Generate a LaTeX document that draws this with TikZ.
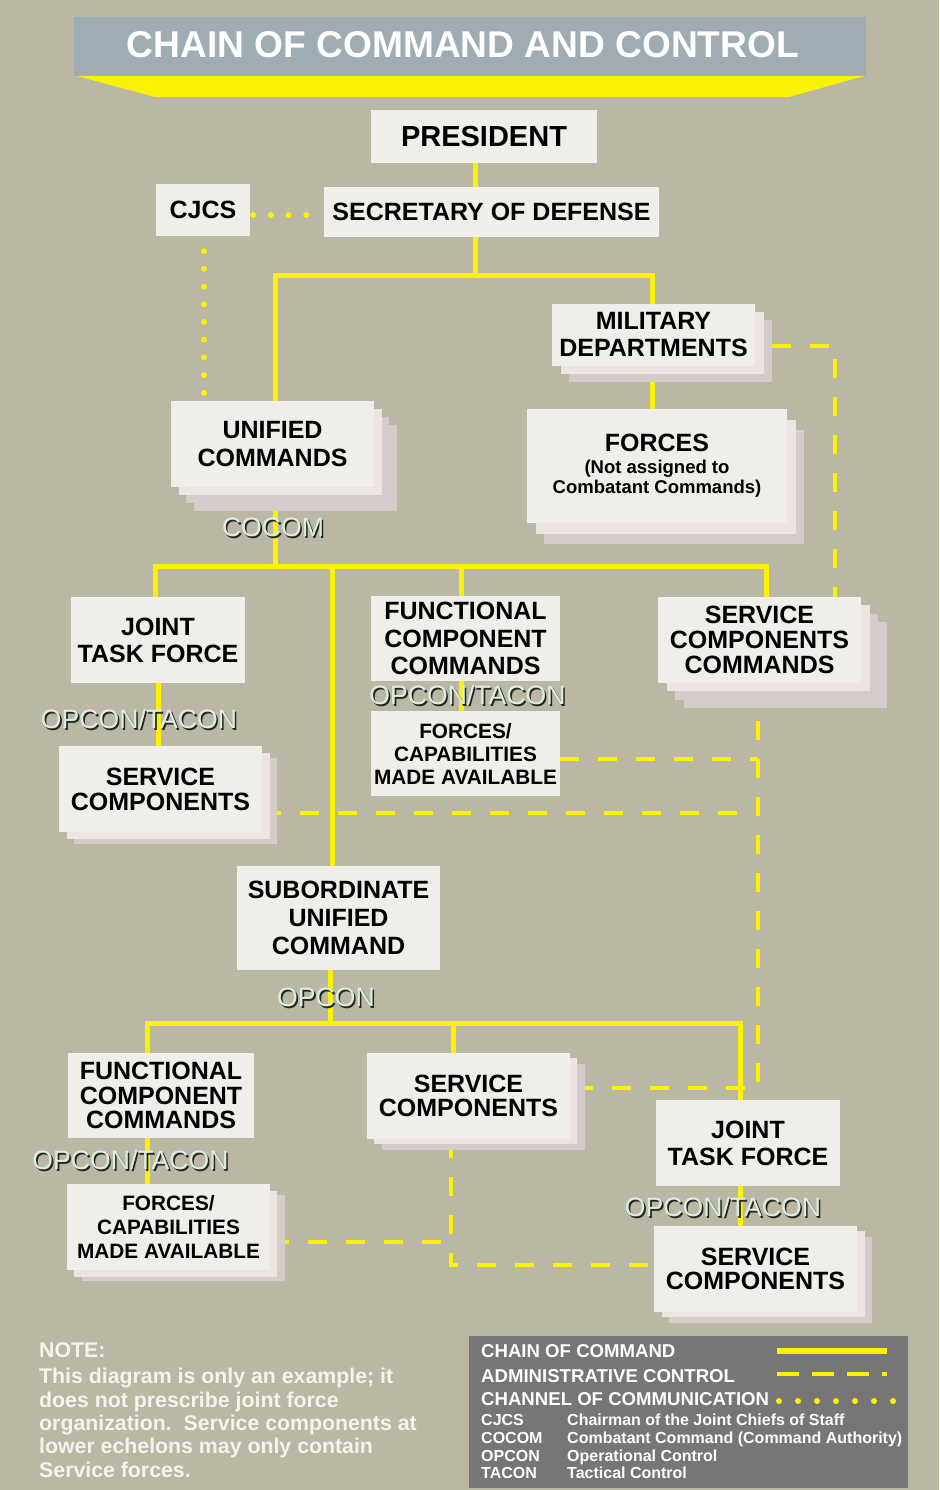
\documentclass[tikz,border=0pt]{standalone}
\usepackage{fontspec}
\setmainfont{Liberation Sans}
\usepackage{graphicx}
\usetikzlibrary{shadows,calc}
\definecolor{bgc}{RGB}{186,184,164}
\definecolor{titlec}{RGB}{159,172,179}
\definecolor{yl}{RGB}{250,242,0}
\definecolor{boxc}{RGB}{239,238,234}
\definecolor{layp}{RGB}{237,228,225}
\definecolor{layd}{RGB}{212,204,202}
\definecolor{legc}{RGB}{118,118,118}
\definecolor{labc}{RGB}{222,236,224}
\definecolor{shc}{RGB}{35,40,35}
\definecolor{notec}{RGB}{244,243,238}
\newcommand\shtext[1]{\makebox[0pt][l]{\hspace*{1.6pt}\raisebox{-1.6pt}{\textcolor{shc}{#1}}}#1}
\pgfdeclarelayer{back}
\pgfdeclarelayer{lines}
\pgfsetlayers{back,lines,main}
\begin{document}
\begin{tikzpicture}[x=1pt, y=-1pt,
  box/.style={fill=boxc, draw=none, inner sep=0pt, align=center, text=black, font=\fontsize{25}{27.5}\selectfont\bfseries},
  cmd/.style={draw=yl, line width=5pt},
  adm/.style={draw=yl, line width=4pt, dash pattern=on 19pt off 19pt},
  comm/.style={draw=yl, line width=6pt, line cap=round, dash pattern=on 0pt off 17.7pt},
  lab/.style={inner sep=0pt, text=labc, font=\fontsize{26.6}{28}\selectfont, anchor=base},
  lgt/.style={inner sep=0pt, text=white, anchor=base west, font=\fontsize{18.6}{21}\selectfont\bfseries},
  lgs/.style={inner sep=0pt, text=white, anchor=base west, font=\fontsize{16}{18}\selectfont\bfseries},
  lay/.style n args={3}{general shadow={fill=#1, draw=none, shadow xshift=#2, shadow yshift=#3}}
]
\useasboundingbox (0,0) rectangle (939,1490);
\begin{pgfonlayer}{back}
\fill[bgc] (0,0) rectangle (939,1490);
\end{pgfonlayer}

% title
\fill[titlec] (74,17) rectangle (866,76);
\fill[yl] (77,76) -- (864,76) -- (789,97) -- (155,97) -- cycle;
\node[inner sep=0pt, anchor=base, text=white] (title) at (463,58) {\resizebox{672pt}{26pt}{\bfseries CHAIN OF COMMAND AND CONTROL}};

% boxes
\node[box, minimum width=226pt, minimum height=53pt, font=\fontsize{29}{31}\selectfont\bfseries] (pres) at (484,136.5) {PRESIDENT};
\node[box, minimum width=94pt, minimum height=52pt] (cjcs) at (203,210) {CJCS};
\node[box, minimum width=335pt, minimum height=50pt] (secdef) at (491.5,212) {SECRETARY OF DEFENSE};
\node[box, minimum width=203pt, minimum height=62pt, font=\fontsize{25}{27}\selectfont\bfseries,
  lay={layd}{17pt}{-16pt}, lay={layp}{8.5pt}{-8pt}] (mil) at (653.5,335) {MILITARY\\DEPARTMENTS};
\node[box, minimum width=260pt, minimum height=114pt, text width=260pt, align=flush center,
  lay={layd}{17pt}{-21pt}, lay={layp}{8.5pt}{-10.5pt}] (forces) at (657,466)
  {FORCES\par\vspace{2pt}\fontsize{18.5}{20}\selectfont(Not assigned to\\Combatant Commands)\par};
\node[box, minimum width=203pt, minimum height=86pt, font=\fontsize{25}{28}\selectfont\bfseries,
  lay={layd}{23pt}{-24pt}, lay={layd}{15.4pt}{-16pt}, lay={layp}{7.7pt}{-8pt}] (unified) at (272.5,444) {UNIFIED\\COMMANDS};
\node[box, minimum width=174pt, minimum height=86pt, font=\fontsize{25}{27}\selectfont\bfseries] (jtf1) at (158,640) {JOINT\\TASK FORCE};
\node[box, minimum width=189pt, minimum height=85pt] (fcc1) at (465.5,638.5) {FUNCTIONAL\\COMPONENT\\COMMANDS};
\node[box, minimum width=189pt, minimum height=85pt, font=\fontsize{20.8}{23}\selectfont\bfseries] (fcap1) at (465.5,753.5) {FORCES/\\CAPABILITIES\\MADE AVAILABLE};
\node[box, minimum width=203pt, minimum height=86pt, font=\fontsize{25}{25}\selectfont\bfseries,
  lay={layd}{25.5pt}{-25pt}, lay={layd}{17pt}{-16.6pt}, lay={layp}{8.5pt}{-8.3pt}] (scc) at (759.5,640) {SERVICE\\COMPONENTS\\COMMANDS};
\node[box, minimum width=203pt, minimum height=86pt, font=\fontsize{25}{25}\selectfont\bfseries,
  lay={layd}{15pt}{-12pt}, lay={layp}{7.5pt}{-6.5pt}] (sc1) at (160.5,789) {SERVICE\\COMPONENTS};
\node[box, minimum width=203pt, minimum height=104pt, font=\fontsize{25}{28}\selectfont\bfseries] (sub) at (338.5,918) {SUBORDINATE\\UNIFIED\\COMMAND};
\node[box, minimum width=186pt, minimum height=85pt, font=\fontsize{25}{24.5}\selectfont\bfseries] (fcc2) at (161,1095.5) {FUNCTIONAL\\COMPONENT\\COMMANDS};
\node[box, minimum width=203pt, minimum height=86pt, font=\fontsize{20.8}{24}\selectfont\bfseries,
  lay={layd}{15pt}{-11pt}, lay={layp}{7pt}{-7pt}] (fcap2) at (168.5,1227) {FORCES/\\CAPABILITIES\\MADE AVAILABLE};
\node[box, minimum width=203pt, minimum height=86pt, font=\fontsize{25}{24.5}\selectfont\bfseries,
  lay={layd}{15pt}{-11pt}, lay={layp}{7pt}{-5pt}] (sc2) at (468.5,1096) {SERVICE\\COMPONENTS};
\node[box, minimum width=184pt, minimum height=86pt, font=\fontsize{25}{27}\selectfont\bfseries] (jtf2) at (748,1143) {JOINT\\TASK FORCE};
\node[box, minimum width=203pt, minimum height=86pt, font=\fontsize{25}{24.5}\selectfont\bfseries,
  lay={layd}{15pt}{-11pt}, lay={layp}{8pt}{-5pt}] (sc3) at (755.5,1269) {SERVICE\\COMPONENTS};

% connectors
\begin{pgfonlayer}{lines}
\coordinate (j0) at (475,275);
\coordinate (j0a) at (275,275);
\coordinate (j0b) at (652,275);
\draw[cmd] (pres.south -| j0) -- (secdef.north -| j0);
\draw[cmd] (secdef.south -| j0) -- (j0);
\draw[cmd] (unified.north -| j0a) -- (j0a) -- (j0b) -- (mil.north -| j0b);
\draw[cmd] (mil.south -| j0b) -- (forces.north -| j0b);
\coordinate (b1) at (275,566);
\coordinate (b1a) at (155,566);
\coordinate (b1b) at (332,566);
\coordinate (b1c) at (461,566);
\coordinate (b1d) at (766,566);
\draw[cmd] (unified.south -| b1) -- (b1);
\draw[cmd] (jtf1.north -| b1a) -- (b1a) -- (b1d) -- (scc.north -| b1d);
\draw[cmd] (b1b) -- (sub.north -| b1b);
\draw[cmd] (b1c) -- (fcc1.north -| b1c);
\draw[cmd] (jtf1.south) -- (sc1.north -| jtf1.south);
\draw[cmd] (fcc1.south -| b1c) -- (fcap1.north -| b1c);
\coordinate (b2) at (330,1023);
\coordinate (b2a) at (147,1023);
\coordinate (b2b) at (453,1023);
\coordinate (b2c) at (740,1023);
\draw[cmd] (sub.south -| b2) -- (b2);
\draw[cmd] (fcc2.north -| b2a) -- (b2a) -- (b2c) -- (jtf2.north -| b2c);
\draw[cmd] (b2b) -- (sc2.north -| b2b);
\draw[cmd] (fcc2.south -| b2a) -- (fcap2.north -| b2a);
\draw[cmd] (jtf2.south -| b2c) -- (sc3.north -| b2c);
% administrative control
\coordinate (a1) at (835,346);
\draw[adm] ($(mil.east |- a1)+(17,0)$) -- (a1) -- (scc.north -| a1);
\coordinate (a2) at (758,1088);
\draw[adm] (scc.south -| a2) -- (a2) -- (sc2.east |- a2);
\coordinate (a3) at (758,759);
\coordinate (a4) at (758,813);
\draw[adm] (fcap1.east |- a3) -- (a3);
\draw[adm] (sc1.east |- a4) -- (a4);
\coordinate (a5) at (451,1265);
\draw[adm] (sc2.south -| a5) -- (a5) -- (sc3.west |- a5);
\coordinate (a6) at (451,1242);
\draw[adm] (fcap2.east |- a6) -- (a6);
% communication
\draw[comm] ($(cjcs.east)+(3,5)$) -- ($(cjcs.east -| secdef.west)+(0,5)$);
\draw[comm] ($(cjcs.south)+(1,15)$) -- ($(cjcs.south |- unified.north)+(1,-4)$);
\end{pgfonlayer}

% labels
\node[lab] (lcocom) at (273,536.5) {\shtext{COCOM}};
\node[lab] (lot1) at (139,728.5) {\shtext{OPCON/TACON}};
\node[lab] (lot2) at (467.5,704.5) {\shtext{OPCON/TACON}};
\node[lab] (lop) at (326,1006.5) {\shtext{OPCON}};
\node[lab] (lot3) at (130.5,1169.5) {\shtext{OPCON/TACON}};
\node[lab] (lot4) at (723,1216.5) {\shtext{OPCON/TACON}};

% note
\node[anchor=north west, inner sep=0pt, align=left, text=notec, font=\fontsize{21.3}{23.3}\selectfont\bfseries] (note) at (39,1342)
 {NOTE:\\[3.5pt]This diagram is only an example; it\\does not prescribe joint force\\organization.\ \ Service components at\\lower echelons may only contain\\Service forces.};

% legend
\fill[legc] (469,1336) rectangle (908,1488);
\node[lgt] (lgcc) at (481,1357) {CHAIN OF COMMAND};
\node[lgt] (lgad) at (481,1382) {ADMINISTRATIVE CONTROL};
\node[lgt] (lgch) at (481,1405) {CHANNEL OF COMMUNICATION};
\coordinate (lg1a) at (777,1351);
\coordinate (lg1b) at (887,1351);
\coordinate (lg2a) at (777,1374);
\coordinate (lg2b) at (887,1374);
\coordinate (lg3a) at (779,1401);
\coordinate (lg3b) at (893.5,1401);
\draw[cmd, line width=5.5pt] (lg1a) -- (lg1b);
\draw[adm, dash pattern=on 22pt off 13pt] (lg2a) -- (lg2b);
\draw[comm, dash pattern=on 0pt off 19pt] (lg3a) -- (lg3b);
\node[lgs] (ab1) at (481,1425) {CJCS};
\node[lgs] (ab2) at (481,1443) {COCOM};
\node[lgs] (ab3) at (481,1461) {OPCON};
\node[lgs] (ab4) at (481,1478) {TACON};
\node[lgs] (df1) at (567,1425) {Chairman of the Joint Chiefs of Staff};
\node[lgs] (df2) at (567,1443) {Combatant Command (Command Authority)};
\node[lgs] (df3) at (567,1461) {Operational Control};
\node[lgs] (df4) at (567,1478) {Tactical Control};
\end{tikzpicture}
\end{document}
